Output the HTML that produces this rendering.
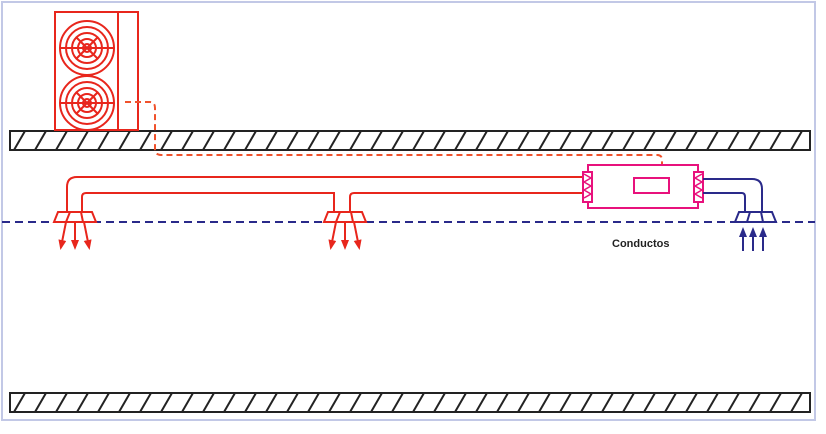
<!DOCTYPE html>
<html><head><style>body{margin:0;background:#fff}</style></head><body>
<svg width="826" height="429" xmlns="http://www.w3.org/2000/svg">
<defs>
<pattern id="h1" x="10" y="131" width="21" height="19" patternUnits="userSpaceOnUse">
<line x1="4" y1="19" x2="15" y2="0" stroke="#222" stroke-width="2"/>
<line x1="25" y1="19" x2="36" y2="0" stroke="#222" stroke-width="2"/>
<line x1="-17" y1="19" x2="-6" y2="0" stroke="#222" stroke-width="2"/>
</pattern>
<pattern id="h2" x="10" y="393" width="21" height="19" patternUnits="userSpaceOnUse">
<line x1="4" y1="19" x2="15" y2="0" stroke="#222" stroke-width="2"/>
<line x1="25" y1="19" x2="36" y2="0" stroke="#222" stroke-width="2"/>
<line x1="-17" y1="19" x2="-6" y2="0" stroke="#222" stroke-width="2"/>
</pattern>
<marker id="ar" markerUnits="userSpaceOnUse" markerWidth="10" markerHeight="10" refX="7" refY="4" orient="auto"><path d="M0,0 L10,4 L0,8z" fill="#e8261c"/></marker>
<marker id="ab" markerUnits="userSpaceOnUse" markerWidth="10" markerHeight="10" refX="7" refY="4" orient="auto"><path d="M0,0 L10,4 L0,8z" fill="#2a2a8a"/></marker>
</defs>
<rect x="2" y="2" width="813" height="418" fill="#fff" stroke="#c2c8e6" stroke-width="2"/>
<rect x="10" y="131" width="800" height="19" fill="url(#h1)" stroke="#222" stroke-width="2"/>
<rect x="10" y="393" width="800" height="19" fill="url(#h2)" stroke="#222" stroke-width="2"/>
<g stroke="#e8261c" fill="none" stroke-width="2">
<rect x="55" y="12" width="83" height="118" fill="#fff"/>
<line x1="118" y1="12" x2="118" y2="130"/>
<g id="fan">
<circle cx="87" cy="48" r="27"/><circle cx="87" cy="48" r="21"/><circle cx="87" cy="48" r="15"/><circle cx="87" cy="48" r="9"/><circle cx="87" cy="48" r="4"/>
<line x1="60" y1="48" x2="114" y2="48"/><line x1="76" y1="37" x2="98" y2="59"/><line x1="98" y1="37" x2="76" y2="59"/>
</g>
<use href="#fan" y="55"/>
</g>
<path d="M125,102 H150 Q155,102 155,108 V149 Q155,155 161,155 H657 Q662,155 662,160 V165" stroke="#f0522c" stroke-width="2" fill="none" stroke-dasharray="6,4"/>
<line x1="2" y1="222" x2="815" y2="222" stroke="#2a2a8a" stroke-width="2" stroke-dasharray="8,5"/>
<g stroke="#e8261c" fill="none" stroke-width="2">
<path d="M67,212 V187 Q67,177 77,177 H585"/>
<path d="M82,212 V197 Q82,193 86,193 H334 V212"/>
<path d="M350,212 V197 Q350,193 354,193 H585"/>
<path d="M58,212 H92 L96,222 H54 Z" fill="#fff"/>
<line x1="70" y1="212" x2="66" y2="222"/><line x1="81" y1="212" x2="83" y2="222"/>
<path d="M328,212 H362 L366,222 H324 Z" fill="#fff"/>
<line x1="340" y1="212" x2="336" y2="222"/><line x1="351" y1="212" x2="353" y2="222"/>
<line x1="66" y1="222" x2="61" y2="247" marker-end="url(#ar)"/><line x1="75" y1="222" x2="75" y2="247" marker-end="url(#ar)"/><line x1="84" y1="222" x2="89" y2="247" marker-end="url(#ar)"/>
<line x1="336" y1="222" x2="331" y2="247" marker-end="url(#ar)"/><line x1="345" y1="222" x2="345" y2="247" marker-end="url(#ar)"/><line x1="354" y1="222" x2="359" y2="247" marker-end="url(#ar)"/>
</g>
<g stroke="#e8117c" fill="none" stroke-width="2">
<rect x="588" y="165" width="110" height="43"/>
<rect x="634" y="178" width="35" height="15"/>
<rect x="583" y="172" width="9" height="30" fill="#fff"/>
<path d="M584,174 L591,178 L584,182 L591,186 L584,190 L591,194 L584,198" stroke-width="1.5"/>
<rect x="694" y="172" width="9" height="30" fill="#fff"/>
<path d="M702,174 L695,178 L702,182 L695,186 L702,190 L695,194 L702,198" stroke-width="1.5"/>
</g>
<g stroke="#2a2a8a" fill="none" stroke-width="2">
<path d="M703,179 H752 Q762,179 762,189 V212"/>
<path d="M703,193 H742 Q745,193 745,197 V212"/>
<path d="M739,212 H772 L776,222 H735 Z" fill="#fff"/>
<line x1="750" y1="212" x2="747" y2="222"/><line x1="761" y1="212" x2="763" y2="222"/>
<line x1="743" y1="251" x2="743" y2="230" marker-end="url(#ab)"/><line x1="753" y1="251" x2="753" y2="230" marker-end="url(#ab)"/><line x1="763" y1="251" x2="763" y2="230" marker-end="url(#ab)"/>
</g>
<text x="612" y="247" font-family="Liberation Sans, sans-serif" font-size="11" font-weight="bold" fill="#222">Conductos</text>
</svg>
</body></html>
